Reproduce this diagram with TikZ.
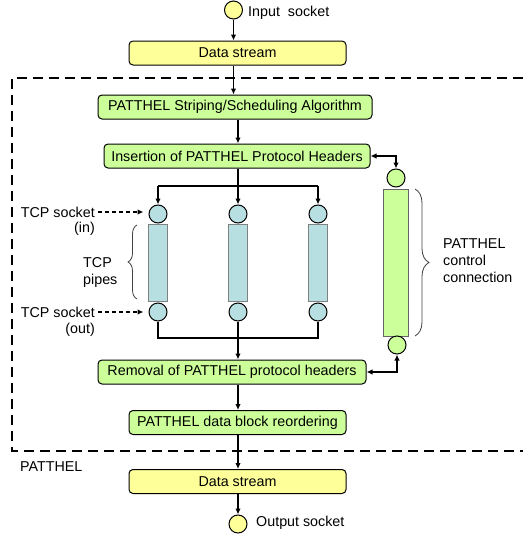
\documentclass[tikz,border=0pt]{standalone}
\usepackage{fontspec}
\setmainfont{Liberation Sans}
\usetikzlibrary{arrows.meta,decorations.pathreplacing}
\definecolor{sockyellow}{RGB}{255,255,153}
\definecolor{pathgreen}{RGB}{204,255,153}
\definecolor{pipeblue}{RGB}{183,222,225}

\begin{document}
\begin{tikzpicture}[x=1pt,y=-1pt,>={Latex[length=6pt,width=5.5pt]},
    font=\fontsize{14.3}{17}\selectfont,
    box/.style={draw,rounded corners=4pt,minimum height=24pt,inner sep=0pt,line width=1pt},
    sock/.style={draw,circle,minimum size=18pt,inner sep=0pt,line width=1pt},
    pipe/.style={draw=gray,fill=pipeblue,minimum width=19pt,minimum height=77pt,inner sep=0pt,line width=1pt},
    lbl/.style={inner sep=0pt},
    flow/.style={->,line width=1.8pt},
    wire/.style={line width=1.8pt},
    hint/.style={->,line width=1.3pt,dash pattern=on 4pt off 3pt},
    curly/.style={decorate,line width=0.8pt,draw=black!75}]
            \useasboundingbox (0,0) rectangle (523,538);

            % PATTHEL region
            \draw [line width=2.8pt, dash pattern=on 10pt off 6pt] (523,78) -| (12,451) -- (523,451);
            \node [lbl, anchor=west] (region) at (20,467) {PATTHEL};

            \node [sock, fill=sockyellow] (insock) at (233.5,10) {};
            \node [lbl, anchor=west] (inlbl) at (248,13) {Input\ \ socket};
            \node [box, fill=sockyellow, minimum width=217pt] (ds1) at (237.5,53) {Data stream};
            \node [box, fill=pathgreen, minimum width=274pt] (strip) at (235,107) {PATTHEL Striping/Scheduling Algorithm};
            \node [box, fill=pathgreen, minimum width=266pt] (ins) at (237,156) {Insertion of PATTHEL Protocol Headers};

            % TCP pipes
            \foreach \n/\x in {1/158,2/238,3/318} {
                \node [sock, fill=pipeblue] (t\n) at (\x,214) {};
                \node [pipe] (p\n) at (\x,262.5) {};
                \node [sock, fill=pipeblue] (b\n) at (\x,312) {};
            }

            % control connection
            \node [sock, fill=pathgreen] (c1) at (396,178) {};
            \node [draw=black!60, fill=pathgreen, line width=1pt, minimum width=25pt, minimum height=147pt, inner sep=0pt] (ctrl) at (395.5,262.5) {};
            \node [sock, fill=pathgreen] (c2) at (397,345) {};

            \node [box, fill=pathgreen, minimum width=268pt] (rem) at (232,372) {Removal of PATTHEL protocol headers};
            \node [box, fill=pathgreen, minimum width=217pt] (reord) at (237.5,422.5) {PATTHEL data block reordering};
            \node [box, fill=sockyellow, minimum width=217pt] (ds2) at (237.5,481.5) {Data stream};
            \node [sock, fill=sockyellow] (outsock) at (238,524) {};
            \node [lbl, anchor=west] (outlbl) at (256,523) {Output socket};

            % main flow
            \draw [flow] (insock) -- (insock |- ds1.north);
            \draw [flow] (ds1.south -| insock) -- (insock |- strip.north);
            \draw [flow] (strip.south -| t2) -- (ins.north -| t2);
            \coordinate (split) at (238,186);
            \coordinate (merge) at (238,338);
            \draw [flow] (ins.south -| t2) -- (t2);
            \draw [wire] (split -| t1) -- (split -| t3);
            \draw [flow] (split -| t1) -- (t1);
            \draw [flow] (split -| t3) -- (t3);
            \draw [wire] (b1) |- (merge) -| (b3);
            \draw [flow] (b2) -- (rem.north -| b2);
            \draw [flow] (rem.south -| t2) -- (reord.north -| t2);
            \draw [flow] (reord.south -| t2) -- (ds2.north -| t2);
            \draw [flow] (ds2.south -| outsock) -- (outsock);
            \draw [wire, <->] (ins.east) -| (c1);
            \draw [wire, <->] (c2) |- (rem.east);

            % labels left
            \node [lbl, anchor=east] (tcpin) at (95,212) {TCP socket};
            \node [lbl, anchor=east] (tcpinb) at (95,229) {(in)};
            \node [lbl, anchor=east] (tcpout) at (95,312) {TCP socket};
            \node [lbl, anchor=east] (tcpoutb) at (95,330) {(out)};
            \draw [hint, shorten <=3pt, shorten >=5pt] (tcpin.east) -- (tcpin.east -| t1.west);
            \draw [hint, shorten <=3pt, shorten >=5pt] (tcpout.east) -- (tcpout.east -| b1.west);
            \node [lbl, anchor=west, align=left] (pipelbl) at (83,272) {TCP\\pipes};
            \draw [curly, decoration={brace,amplitude=9pt}] (137,299) -- (137,225);
            \draw [curly, decoration={brace,amplitude=14pt}] (415,189) -- (415,336);
            \node [lbl, anchor=west, align=left] (ctrllbl) at (443,261) {PATTHEL\\control\\connection};
        \end{tikzpicture}
\end{document}
